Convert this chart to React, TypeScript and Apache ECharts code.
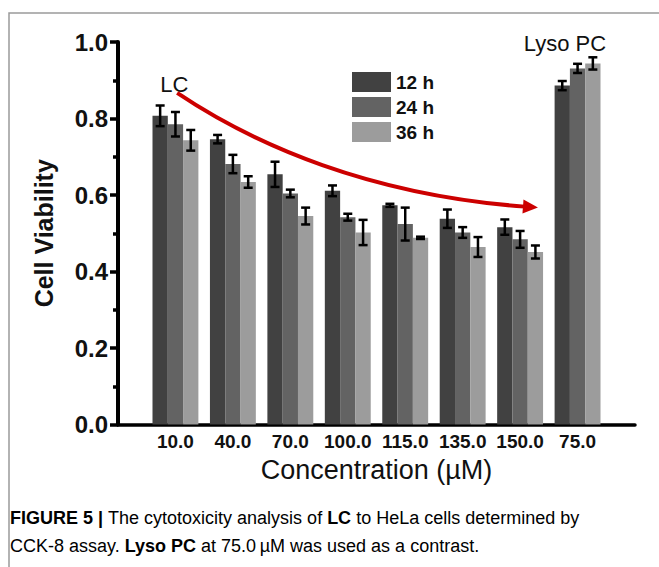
import React, { useEffect, useRef } from "react";
import * as echarts from "echarts";

// ---------- data ----------
const categories = ["10.0", "40.0", "70.0", "100.0", "115.0", "135.0", "150.0", "75.0"];
const seriesNames = ["12 h", "24 h", "36 h"];
const values12 = [0.807, 0.746, 0.654, 0.611, 0.573, 0.538, 0.516, 0.886];
const errors12 = [0.027, 0.011, 0.033, 0.014, 0.004, 0.024, 0.02, 0.012];
const values24 = [0.785, 0.681, 0.604, 0.542, 0.524, 0.502, 0.484, 0.931];
const errors24 = [0.032, 0.024, 0.01, 0.009, 0.043, 0.014, 0.022, 0.012];
const values36 = [0.743, 0.634, 0.545, 0.502, 0.488, 0.464, 0.451, 0.944];
const errors36 = [0.027, 0.015, 0.022, 0.033, 0.003, 0.026, 0.017, 0.016];
const yTicks = [0, 0.2, 0.4, 0.6, 0.8, 1.0];
// trend arrow (category-index, value): start, control 1, control 2, end
const trendCurve = [
  [0.03, 0.867],
  [1.39, 0.73],
  [3.39, 0.6],
  [6.05, 0.57],
];
const lcLabel = { text: "LC", at: [-0.02, 0.888] };
const lysoLabel = { text: "Lyso PC", at: [6.78, 0.995] };
const captionLine1 = [
  { t: "FIGURE 5 | ", b: true },
  { t: "The cytotoxicity analysis of ", b: false },
  { t: "LC", b: true },
  { t: " to HeLa cells determined by", b: false },
];
const captionLine2 = [
  { t: "CCK-8 assay. ", b: false },
  { t: "Lyso PC", b: true },
  { t: " at 75.0\u2009\u00b5M was used as a contrast.", b: false },
];

// ---------- styles ----------
const colors = ["#414141", "#636363", "#9c9c9c"];
const BAR_W = 15.3;
const FONT = "'Liberation Sans', Arial, Helvetica, sans-serif";

export default function App() {
  const ref = useRef<HTMLDivElement>(null);

  useEffect(() => {
    if (!ref.current) return;
    const chart = echarts.init(ref.current, undefined, { renderer: "svg" });

    const allValues = [values12, values24, values36];
    const allErrors = [errors12, errors24, errors36];

    const errData: number[][] = [];
    allValues.forEach((vals, s) => {
      vals.forEach((v, i) => errData.push([i, v, allErrors[s][i], s]));
    });

    const barSeries = allValues.map((vals, s) => ({
      type: "bar",
      name: seriesNames[s],
      data: vals.map((v, i) => [i, v]),
      barWidth: BAR_W,
      barGap: "0%",
      itemStyle: { color: colors[s] },
      z: 2,
    }));

    const richCaption = {
      n: { fontFamily: FONT, fontSize: 18, color: "#3a3a3a", fontWeight: "normal" },
      b: { fontFamily: FONT, fontSize: 18, color: "#222", fontWeight: "bold" },
    };
    const toRich = (parts: { t: string; b: boolean }[]) =>
      parts.map((p) => `{${p.b ? "b" : "n"}|${p.t}}`).join("");

    chart.setOption({
      animation: false,
      backgroundColor: "#fff",
      grid: { left: 118, right: 24, top: 42, bottom: 567 - 424.5, containLabel: false },
      legend: {
        data: seriesNames,
        orient: "vertical",
        left: 352,
        top: 72,
        padding: 0,
        itemWidth: 39,
        itemHeight: 20,
        itemGap: 5,
        icon: "rect",
        textStyle: { fontFamily: FONT, fontSize: 19, fontWeight: "bold", color: "#111" },
      },
      xAxis: {
        type: "value",
        min: -1,
        max: 8,
        interval: 1,
        name: "Concentration (\u00b5M)",
        nameLocation: "middle",
        nameGap: 32,
        nameTextStyle: { fontFamily: FONT, fontSize: 27, color: "#111" },
        axisLine: { show: true, onZero: false, lineStyle: { color: "#000", width: 3.5 } },
        axisTick: { show: false },
        splitLine: { show: false },
        axisLabel: {
          margin: 7,
          fontFamily: FONT,
          fontSize: 19,
          fontWeight: "bold",
          color: "#111",
          formatter: (v: number) => (categories[v] !== undefined ? categories[v] : ""),
        },
      },
      yAxis: {
        type: "value",
        min: yTicks[0],
        max: yTicks[yTicks.length - 1],
        interval: 0.2,
        name: "Cell Viability",
        nameLocation: "middle",
        nameRotate: 90,
        nameGap: 62,
        nameTextStyle: { fontFamily: FONT, fontSize: 25, fontWeight: "bold", color: "#111" },
        axisLine: { show: true, onZero: false, lineStyle: { color: "#000", width: 4 } },
        axisTick: { show: true, inside: false, length: 8, lineStyle: { width: 3.5, color: "#000" } },
        minorTick: { show: true, splitNumber: 2, length: 5, lineStyle: { width: 3.5, color: "#000" } },
        splitLine: { show: false },
        axisLabel: {
          margin: 10,
          fontFamily: FONT,
          fontSize: 24,
          fontWeight: "bold",
          color: "#111",
          formatter: (v: number) => v.toFixed(1),
        },
      },
      series: [
        ...barSeries,
        {
          type: "custom",
          name: "errors",
          data: errData,
          encode: { x: 0, y: 1 },
          z: 5,
          renderItem: (params: any, api: any) => {
            const x = api.value(0);
            const v = api.value(1);
            const e = api.value(2);
            const s = api.value(3);
            const off = (s - 1) * BAR_W;
            const top = api.coord([x, v + e]);
            const bot = api.coord([x, v - e]);
            const cx = top[0] + off;
            const cap = 4.5;
            const st = { stroke: "#000", lineWidth: 2.5 };
            return {
              type: "group",
              children: [
                { type: "line", shape: { x1: cx, y1: top[1], x2: cx, y2: bot[1] }, style: st },
                { type: "line", shape: { x1: cx - cap, y1: top[1], x2: cx + cap, y2: top[1] }, style: st },
                { type: "line", shape: { x1: cx - cap, y1: bot[1], x2: cx + cap, y2: bot[1] }, style: st },
              ],
            };
          },
        },
        {
          type: "custom",
          name: "annotations",
          data: [[0, 0]],
          encode: { x: 0, y: 1 },
          z: 6,
          silent: true,
          renderItem: (params: any, api: any) => {
            const p = trendCurve.map((c) => api.coord(c));
            const [p0, p1, p2, p3] = p;
            const dx = p3[0] - p2[0];
            const dy = p3[1] - p2[1];
            const len = Math.sqrt(dx * dx + dy * dy);
            const ux = dx / len;
            const uy = dy / len;
            const headLen = 15;
            const headHalf = 7;
            const tip = [p3[0] + ux * headLen, p3[1] + uy * headLen];
            const b1 = [p3[0] - uy * headHalf, p3[1] + ux * headHalf];
            const b2 = [p3[0] + uy * headHalf, p3[1] - ux * headHalf];
            const lc = api.coord(lcLabel.at);
            const ly = api.coord(lysoLabel.at);
            return {
              type: "group",
              children: [
                {
                  type: "bezierCurve",
                  shape: {
                    x1: p0[0], y1: p0[1],
                    cpx1: p1[0], cpy1: p1[1],
                    cpx2: p2[0], cpy2: p2[1],
                    x2: p3[0] + ux * 2, y2: p3[1] + uy * 2,
                  },
                  style: { stroke: "#cc0000", lineWidth: 4, fill: null },
                },
                {
                  type: "polygon",
                  shape: { points: [tip, b1, b2] },
                  style: { fill: "#cc0000" },
                },
                {
                  type: "text",
                  x: lc[0],
                  y: lc[1],
                  style: {
                    text: lcLabel.text,
                    fontFamily: FONT,
                    fontSize: 22,
                    fill: "#111",
                    align: "center",
                    verticalAlign: "middle",
                  },
                },
                {
                  type: "text",
                  x: ly[0],
                  y: ly[1],
                  style: {
                    text: lysoLabel.text,
                    fontFamily: FONT,
                    fontSize: 22,
                    fill: "#111",
                    align: "center",
                    verticalAlign: "middle",
                  },
                },
              ],
            };
          },
        },
      ],
      graphic: [
        {
          type: "rect",
          shape: { x: 9, y: 13, width: 720, height: 620 },
          style: { fill: null, stroke: "#9a9a9a", lineWidth: 1.5 },
          silent: true,
          z: -10,
        },
        {
          type: "text",
          left: 10,
          top: 509,
          style: { text: toRich(captionLine1), rich: richCaption, fontFamily: FONT, fontSize: 18 },
        },
        {
          type: "text",
          left: 10,
          top: 537,
          style: { text: toRich(captionLine2), rich: richCaption, fontFamily: FONT, fontSize: 18 },
        },
      ],
    });

    return () => chart.dispose();
  }, []);

  return (
    <div
      ref={ref}
      style={{ position: "fixed", left: 0, top: 0, width: 659, height: 567, background: "#fff" }}
    />
  );
}
